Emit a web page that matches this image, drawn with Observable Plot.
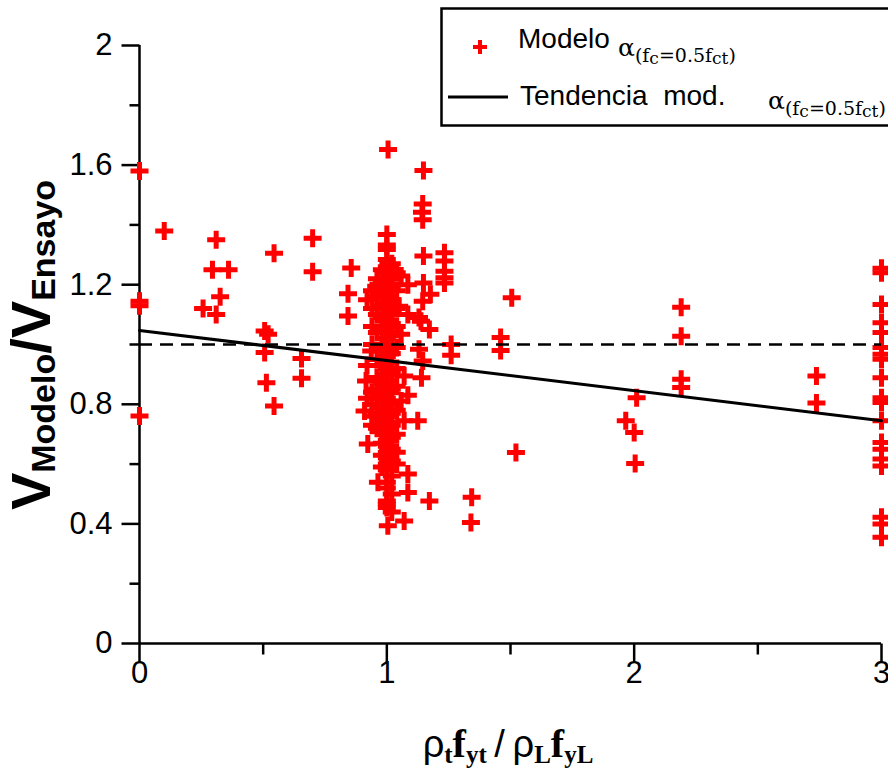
<!DOCTYPE html>
<html><head><meta charset="utf-8">
<script src="https://cdn.jsdelivr.net/npm/d3@7"></script>
<script src="https://cdn.jsdelivr.net/npm/@observablehq/plot@0.6"></script>
<style>
html,body{margin:0;padding:0;background:#fff;}
#chart{width:888px;height:774px;overflow:hidden;position:relative;}
#chart svg{overflow:hidden;}
</style>
</head><body><div id="chart"></div>
<script>
// ---- data ----
const pointsLeft = [
  [0,1.58],[0,1.145],[0,1.13],[0,0.761],
  [0.10,1.38],
  [0.31,1.35],[0.295,1.25],[0.36,1.25],[0.326,1.16],[0.257,1.12],[0.31,1.10],
  [0.544,1.305],[0.70,1.355],[0.70,1.243],
  [0.506,1.045],[0.52,1.034],[0.506,0.973],[0.513,0.872],[0.544,0.794],
  [0.655,0.953],[0.655,0.887],
  [0.856,1.256],[0.843,1.17],[0.843,1.095]
];
const pointsCenterCore = [
  [1.005,1.652],
  [1.0,1.368],[1.0,1.333],[1.0,1.318],[1.0,1.284],[1.0,1.26],[1.0,1.24],[1.0,1.22],[1.0,1.2],
  [1.0,1.18],[1.0,1.16],[1.0,1.14],[1.0,1.12],[1.0,1.1],[1.0,1.08],[1.0,1.06],[1.0,1.04],
  [1.0,1.02],[1.0,1.0],[1.0,0.98],[1.0,0.96],[1.0,0.94],[1.0,0.92],[1.0,0.9],[1.0,0.88],
  [1.0,0.86],[1.0,0.84],[1.0,0.82],[1.0,0.8],[1.0,0.78],[1.0,0.76],[1.0,0.74],[1.0,0.72],
  [1.0,0.7],[1.0,0.68],[1.0,0.66],[1.0,0.64],[1.0,0.62],[1.0,0.6],[1.0,0.58],[1.0,0.539],
  [1.0,0.52],[1.0,0.477],[1.0,0.466],[1.0,0.455],[1.004,0.394]
];
const pointsCenterSpread = [
  [0.98,1.25],[0.98,1.21],[0.98,1.17],[0.98,1.13],[0.98,1.09],[0.98,1.05],[0.98,0.99],[0.98,0.93],
  [0.98,0.87],[0.98,0.83],[0.98,0.79],[0.98,0.75],[0.98,0.71],[0.98,0.67],[0.98,0.63],[0.98,0.59],
  [1.02,1.27],[1.02,1.23],[1.02,1.19],[1.02,1.15],[1.02,1.11],[1.02,1.07],[1.02,1.03],[1.02,0.97],
  [1.02,0.91],[1.02,0.85],[1.02,0.81],[1.02,0.77],[1.02,0.73],[1.02,0.69],[1.02,0.65],[1.02,0.61],
  [1.02,0.56],[1.02,0.50],[1.02,0.44],
  [0.96,1.22],[0.96,1.16],[0.96,1.10],[0.96,1.04],[0.96,0.95],[0.96,0.89],[0.96,0.85],[0.96,0.82],
  [0.96,0.77],[0.96,0.72],[0.964,0.539],
  [1.04,1.24],[1.04,1.18],[1.04,1.12],[1.04,1.06],[1.04,0.99],[1.04,0.92],[1.04,0.86],[1.04,0.78],
  [1.04,0.70],[1.04,0.64],[1.04,0.60],
  [0.94,1.18],[0.94,1.12],[0.94,1.06],[0.94,1.0],[0.94,0.84],[0.94,0.80],[0.94,0.76],[0.94,0.73],
  [0.92,1.15],[0.92,0.93],[0.916,0.878],[0.92,0.82],[0.91,0.778],[0.923,0.667],
  [1.058,1.229],[1.05,1.128],[1.058,1.034],[1.058,0.811],
  [1.085,1.10],[1.085,1.20],[1.085,0.83],[1.085,0.567],[1.085,0.505],
  [1.07,0.895],[1.07,0.745],[1.07,0.41],
  [0.937,0.978],[0.957,1.195]
];
const pointsMid = [
  [1.148,1.582],[1.145,1.47],[1.142,1.442],[1.145,1.417],[1.148,1.296],[1.148,1.206],[1.145,1.145],
  [1.176,1.168],[1.138,1.078],[1.172,1.05],[1.13,1.09],[1.13,0.984],[1.145,0.945],[1.14,0.889],
  [1.125,0.745],[1.172,0.477],
  [1.233,1.307],[1.233,1.279],[1.233,1.245],[1.233,1.223],[1.233,1.206],
  [1.26,1.0],[1.26,0.964],
  [1.343,0.489],[1.34,0.405],
  [1.46,1.023],[1.46,0.98],[1.505,1.156],[1.522,0.639]
];
const pointsRight = [
  [1.966,0.745],[2.0,0.706],[2.01,0.822],[2.004,0.602],
  [2.19,1.125],[2.19,1.028],[2.19,0.884],[2.19,0.856],
  [2.737,0.895],[2.737,0.804],
  [3,1.255],[3,1.24],[3,1.134],[3,1.073],[3,1.04],[3,0.99],[3,0.967],[3,0.951],[3,0.889],
  [3,0.822],[3,0.806],[3,0.745],[3,0.672],[3,0.65],[3,0.617],[3,0.594],[3,0.422],[3,0.40],[3,0.355]
];
const trendX = [0, 3];
const trendY = [1.047, 0.745];
const referenceY = [1];
const yTickValues = [0, 0.4, 0.8, 1.2, 1.6, 2];
const yTickLabels = ["0", "0.4", "0.8", "1.2", "1.6", "2"];
const yMinorTicks = [0.2, 0.6, 1.0, 1.4, 1.8];
const xTickValues = [0, 1, 2, 3];
const xTickLabels = ["0", "1", "2", "3"];
const xMinorTicks = [0.5, 1.5, 2.5];

// ---- build ----
const points = [...pointsLeft, ...pointsCenterCore, ...pointsCenterSpread, ...pointsMid, ...pointsRight]
  .map(([x, y]) => ({x, y}));
const trend = trendX.map((x, i) => ({x, y: trendY[i]}));

const plusSymbol = {draw(ctx, size) { const h = Math.sqrt(size / Math.PI) / 2; ctx.moveTo(-h, 0); ctx.lineTo(h, 0); ctx.moveTo(0, -h); ctx.lineTo(0, h); }};
const tickLeft = {draw(ctx, size) { const L = Math.sqrt(size / Math.PI); ctx.moveTo(-L, 0); ctx.lineTo(0, 0); }};
const tickDown = {draw(ctx, size) { const L = Math.sqrt(size / Math.PI); ctx.moveTo(0, 0); ctx.lineTo(0, L); }};
const SANS = "Liberation Sans, Arial, sans-serif";

const chart = Plot.plot({
  width: 888, height: 774,
  marginLeft: 139, marginRight: 7, marginTop: 45, marginBottom: 131,
  x: {domain: [0, 3], axis: null},
  y: {domain: [0, 2], axis: null},
  style: {fontFamily: SANS, background: "white", overflow: "hidden"},
  marks: [
    Plot.ruleX([0], {y1: 0, y2: 2, stroke: "black", strokeWidth: 2.5}),
    Plot.ruleY([0], {x1: 0, x2: 3, stroke: "black", strokeWidth: 2.5}),
    Plot.dot(yTickValues, {x: 0, y: d => d, symbol: tickLeft, r: 18, fill: "none", stroke: "black", strokeWidth: 2.5}),
    Plot.dot(yMinorTicks, {x: 0, y: d => d, symbol: tickLeft, r: 10, fill: "none", stroke: "black", strokeWidth: 2.5}),
    Plot.dot(xTickValues, {x: d => d, y: 0, symbol: tickDown, r: 19, fill: "none", stroke: "black", strokeWidth: 2.5}),
    Plot.dot(xMinorTicks, {x: d => d, y: 0, symbol: tickDown, r: 11, fill: "none", stroke: "black", strokeWidth: 2.5}),
    Plot.text(yTickValues, {x: 0, y: d => d, text: (d, i) => yTickLabels[i], dx: -27, textAnchor: "end", fontSize: 31, fontFamily: SANS, fill: "black"}),
    Plot.text(xTickValues, {x: d => d, y: 0, text: (d, i) => xTickLabels[i], dy: 30, textAnchor: "middle", fontSize: 31, fontFamily: SANS, fill: "black"}),
    Plot.dot(points, {x: "x", y: "y", symbol: plusSymbol, r: 18, fill: "none", stroke: "#ff0000", strokeWidth: 5}),
    Plot.ruleY(referenceY, {x1: 0, x2: 3, stroke: "black", strokeWidth: 2.5, strokeDasharray: "13,8"}),
    Plot.line(trend, {x: "x", y: "y", stroke: "black", strokeWidth: 3})
  ]
});
document.getElementById("chart").appendChild(chart);

const svg = d3.select(chart);

function richText(parent, x, y, parts, attrs = {}) {
  const t = parent.append("text").attr("x", x).attr("y", y).attr("fill", "black").attr("text-anchor", "start");
  for (const k in attrs) t.attr(k, attrs[k]);
  let cur = 0;
  for (const p of parts) {
    const s = t.append("tspan").text(p.t);
    if (p.fs) s.attr("font-size", p.fs);
    if (p.ff) s.attr("font-family", p.ff);
    if (p.fw) s.attr("font-weight", p.fw);
    const off = p.off || 0;
    if (off !== cur) { s.attr("dy", off - cur); cur = off; }
  }
  return t;
}

// y axis title
richText(svg, 0, 0, [
  {t: "V", fs: 56},
  {t: "Modelo", fs: 34, off: 5},
  {t: "/", fs: 56, off: 0},
  {t: "V", fs: 56, off: 0},
  {t: "Ensayo", fs: 34, off: 5}
], {"font-family": SANS, "font-weight": "bold", "text-anchor": "middle", transform: "translate(50,345) rotate(-90)"});

// x axis title
const SERIF = "Liberation Serif, Times New Roman, serif";
richText(svg, 508, 757, [
  {t: "ρ", fs: 38, ff: SANS},
  {t: "t", fs: 25, ff: SERIF, fw: "bold", off: 6},
  {t: "f", fs: 40, ff: SERIF, fw: "bold", off: 0},
  {t: "yt", fs: 25, ff: SERIF, fw: "bold", off: 6},
  {t: "\u2009/\u2009", fs: 38, ff: SANS, off: 0},
  {t: "ρ", fs: 38, ff: SANS, off: 0},
  {t: "L", fs: 25, ff: SERIF, fw: "bold", off: 6},
  {t: "f", fs: 40, ff: SERIF, fw: "bold", off: 0},
  {t: "yL", fs: 25, ff: SERIF, fw: "bold", off: 6}
], {"text-anchor": "middle"});

// legend
const lg = svg.append("g");
lg.append("rect").attr("x", 441.5).attr("y", 8.5).attr("width", 460).attr("height", 117)
  .attr("fill", "white").attr("stroke", "black").attr("stroke-width", 2.5);
const swatch = d3.path();
swatch.moveTo(473, 47); swatch.lineTo(487, 47); swatch.moveTo(480, 40); swatch.lineTo(480, 54);
lg.append("path").attr("d", swatch.toString())
  .attr("stroke", "#ff0000").attr("stroke-width", 4).attr("fill", "none");
lg.append("line").attr("x1", 448).attr("x2", 508).attr("y1", 97).attr("y2", 97).attr("stroke", "black").attr("stroke-width", 3);
const DSERIF = "DejaVu Serif, serif";
richText(lg, 518, 48, [{t: "Modelo", fs: 28, ff: SANS}]);
const alphaParts = [
  {t: "α", fs: 25, ff: DSERIF},
  {t: "(f", fs: 19, ff: DSERIF, off: 6},
  {t: "c", fs: 17, ff: DSERIF, off: 8},
  {t: "=0.5f", fs: 19, ff: DSERIF, off: 6},
  {t: "ct", fs: 17, ff: DSERIF, off: 8},
  {t: ")", fs: 19, ff: DSERIF, off: 6}
];
richText(lg, 618, 56, alphaParts);
richText(lg, 520, 105, [{t: "Tendencia\u00a0 mod.", fs: 28, ff: SANS}]);
richText(lg, 768, 109, alphaParts);
</script>
</body></html>
